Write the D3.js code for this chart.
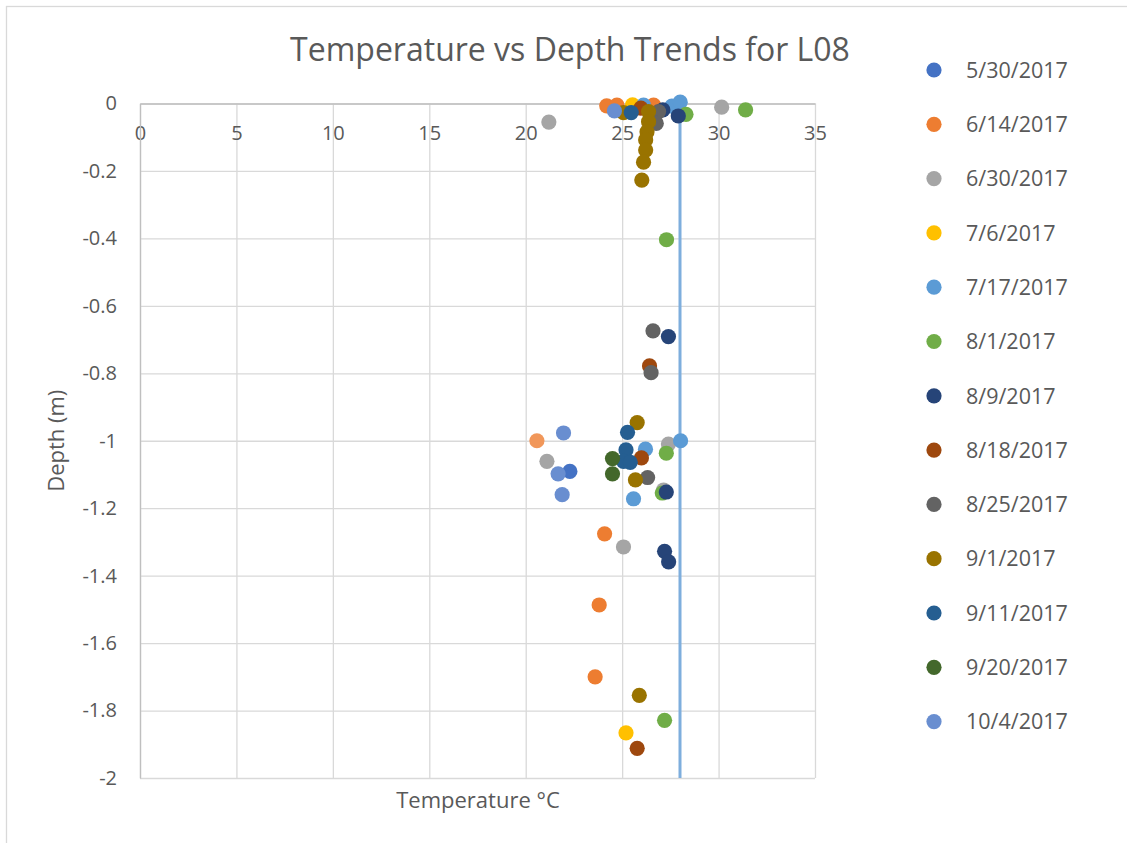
<!DOCTYPE html>
<html>
<head>
<meta charset="utf-8">
<script src="https://cdn.jsdelivr.net/npm/d3@7"></script>
<style>
  body { margin: 0; background: #fff; }
  text { font-family: 'Open Sans', sans-serif; fill: #595959; }
</style>
</head>
<body>
<script>
  // one array per sampling date: [temperature °C, depth m]
  const s0530 = [[22.29, -1.091]];
  const s0614 = [[24.2, -0.007], [24.73, -0.005], [26.63, -0.005], [24.09, -1.276], [23.81, -1.487], [23.6, -1.70]];
  const s0630 = [[21.2, -0.055], [30.16, -0.011], [21.1, -1.061], [27.4, -1.01], [27.15, -1.146], [25.07, -1.315]];
  const s0706 = [[25.54, -0.004], [25.2, -1.866]];
  const s0717 = [[26.11, -0.005], [27.58, -0.008], [28.01, 0.004], [28.03, -1.0], [26.21, -1.025], [25.59, -1.172]];
  const s0801 = [[31.4, -0.019], [28.31, -0.032], [27.3, -0.404], [27.29, -1.037], [27.08, -1.155], [27.2, -1.829]];
  const s0809 = [[27.11, -0.019], [27.91, -0.037], [27.4, -0.691], [27.29, -1.152], [27.2, -1.328], [27.41, -1.359]];
  const s0818 = [[25.97, -0.014], [26.42, -0.778], [26.0, -1.051], [25.78, -1.912]];
  const s0825 = [[26.89, -0.024], [26.77, -0.059], [26.6, -0.674], [26.5, -0.798], [26.32, -1.109]];
  const s0901 = [[25.07, -0.027], [26.37, -0.024], [26.37, -0.054], [26.29, -0.084], [26.22, -0.108],
                 [26.22, -0.138], [26.11, -0.174], [26.02, -0.227], [25.78, -0.946], [25.69, -1.116], [25.89, -1.755]];
  const s0911 = [[25.47, -0.027], [25.28, -0.975], [25.2, -1.027], [25.07, -1.061], [25.42, -1.064]];
  const s0920 = [[24.5, -1.053], [24.5, -1.098]];
  const s1004 = [[24.6, -0.022], [21.96, -0.977], [21.68, -1.098], [21.89, -1.16]];
  const sExtra = [[20.58, -1.0]]; // series with no legend entry

  const seriesNames = ['5/30/2017', '6/14/2017', '6/30/2017', '7/6/2017', '7/17/2017', '8/1/2017', '8/9/2017',
    '8/18/2017', '8/25/2017', '9/1/2017', '9/11/2017', '9/20/2017', '10/4/2017', ''];
  const seriesData = [s0530, s0614, s0630, s0706, s0717, s0801, s0809, s0818, s0825, s0901, s0911, s0920, s1004, sExtra];
  const seriesColors = ['#4472c4', '#ed7d31', '#a5a5a5', '#ffc000', '#5b9bd5', '#70ad47', '#264478',
    '#9e480e', '#636363', '#997300', '#255e91', '#43682b', '#698ed0', '#f1975a'];

  const refLine = [[28, 0], [28, -2]];
  const xTicks = [0, 5, 10, 15, 20, 25, 30, 35];
  const yTicks = [0, -0.2, -0.4, -0.6, -0.8, -1, -1.2, -1.4, -1.6, -1.8, -2];

  const width = 1127;
  const height = 843;
  const margin = { top: 103.5, left: 140, right: 312, bottom: 65 };

  const svg = d3.select('body').append('svg')
    .attr('width', width)
    .attr('height', height);

  svg.append('rect')
    .attr('x', 6.5).attr('y', 6.5)
    .attr('width', width + 10).attr('height', height + 10)
    .attr('fill', '#fff').attr('stroke', '#d9d9d9').attr('stroke-width', 1.3);

  const x = d3.scaleLinear().domain([0, 35]).range([margin.left, width - margin.right]);
  const y = d3.scaleLinear().domain([-2, 0]).range([height - margin.bottom, margin.top]);

  // gridlines
  svg.append('g')
    .attr('transform', `translate(0,${y(-2)})`)
    .call(d3.axisBottom(x).tickValues(xTicks).tickSize(-(y(-2) - y(0))).tickFormat(''))
    .call((g) => g.select('.domain').remove())
    .call((g) => g.selectAll('line').attr('stroke', '#d9d9d9').attr('stroke-width', 1.3));

  svg.append('g')
    .attr('transform', `translate(${x(35)},0)`)
    .call(d3.axisLeft(y).tickValues(yTicks).tickSize(x(35) - x(0)).tickFormat(''))
    .call((g) => g.select('.domain').remove())
    .call((g) => g.selectAll('line').attr('stroke', '#d9d9d9').attr('stroke-width', 1.3));

  const fmt = (d) => (d === 0 ? '0' : String(+d.toFixed(1)));

  // axes crossing at top-left
  const xAxis = svg.append('g')
    .attr('transform', `translate(0,${y(0)})`)
    .call(d3.axisBottom(x).tickValues(xTicks).tickSize(0).tickPadding(22).tickFormat(fmt));
  xAxis.select('.domain').attr('stroke', '#bfbfbf').attr('stroke-width', 1.3);
  xAxis.selectAll('text').attr('font-size', 20).attr('font-family', 'Open Sans').attr('fill', '#595959');

  const yAxis = svg.append('g')
    .attr('transform', `translate(${x(0)},0)`)
    .call(d3.axisLeft(y).tickValues(yTicks).tickSize(0).tickPadding(23).tickFormat(fmt));
  yAxis.select('.domain').attr('stroke', '#bfbfbf').attr('stroke-width', 1.3);
  yAxis.selectAll('text').attr('font-size', 20).attr('font-family', 'Open Sans').attr('fill', '#595959');

  // reference line
  svg.append('path')
    .datum(refLine)
    .attr('d', d3.line().x((d) => x(d[0])).y((d) => y(d[1])))
    .attr('stroke', '#7eaedd')
    .attr('stroke-width', 3)
    .attr('fill', 'none');

  // markers
  seriesData.forEach((pts, i) => {
    svg.append('g')
      .selectAll('circle')
      .data(pts)
      .join('circle')
      .attr('cx', (d) => x(d[0]))
      .attr('cy', (d) => y(d[1]))
      .attr('r', 7.6)
      .attr('fill', seriesColors[i]);
  });

  // title and axis titles
  svg.append('text')
    .attr('x', 570).attr('y', 61)
    .attr('text-anchor', 'middle')
    .attr('font-size', 32)
    .text('Temperature vs Depth Trends for L08');

  svg.append('text')
    .attr('x', 478).attr('y', 808)
    .attr('text-anchor', 'middle')
    .attr('font-size', 22)
    .text('Temperature °C');

  svg.append('text')
    .attr('transform', `translate(64,${(y(0) + y(-2)) / 2}) rotate(-90)`)
    .attr('text-anchor', 'middle')
    .attr('font-size', 22)
    .text('Depth (m)');

  // legend
  const legend = svg.append('g');
  seriesNames.forEach((name, i) => {
    if (!name) return;
    const ly = 70 + i * 54.3;
    legend.append('circle')
      .attr('cx', 934).attr('cy', ly).attr('r', 7.6)
      .attr('fill', seriesColors[i]);
    legend.append('text')
      .attr('x', 966).attr('y', ly)
      .attr('dy', '0.36em')
      .attr('font-size', 21.5)
      .text(name);
  });
</script>
</body>
</html>
